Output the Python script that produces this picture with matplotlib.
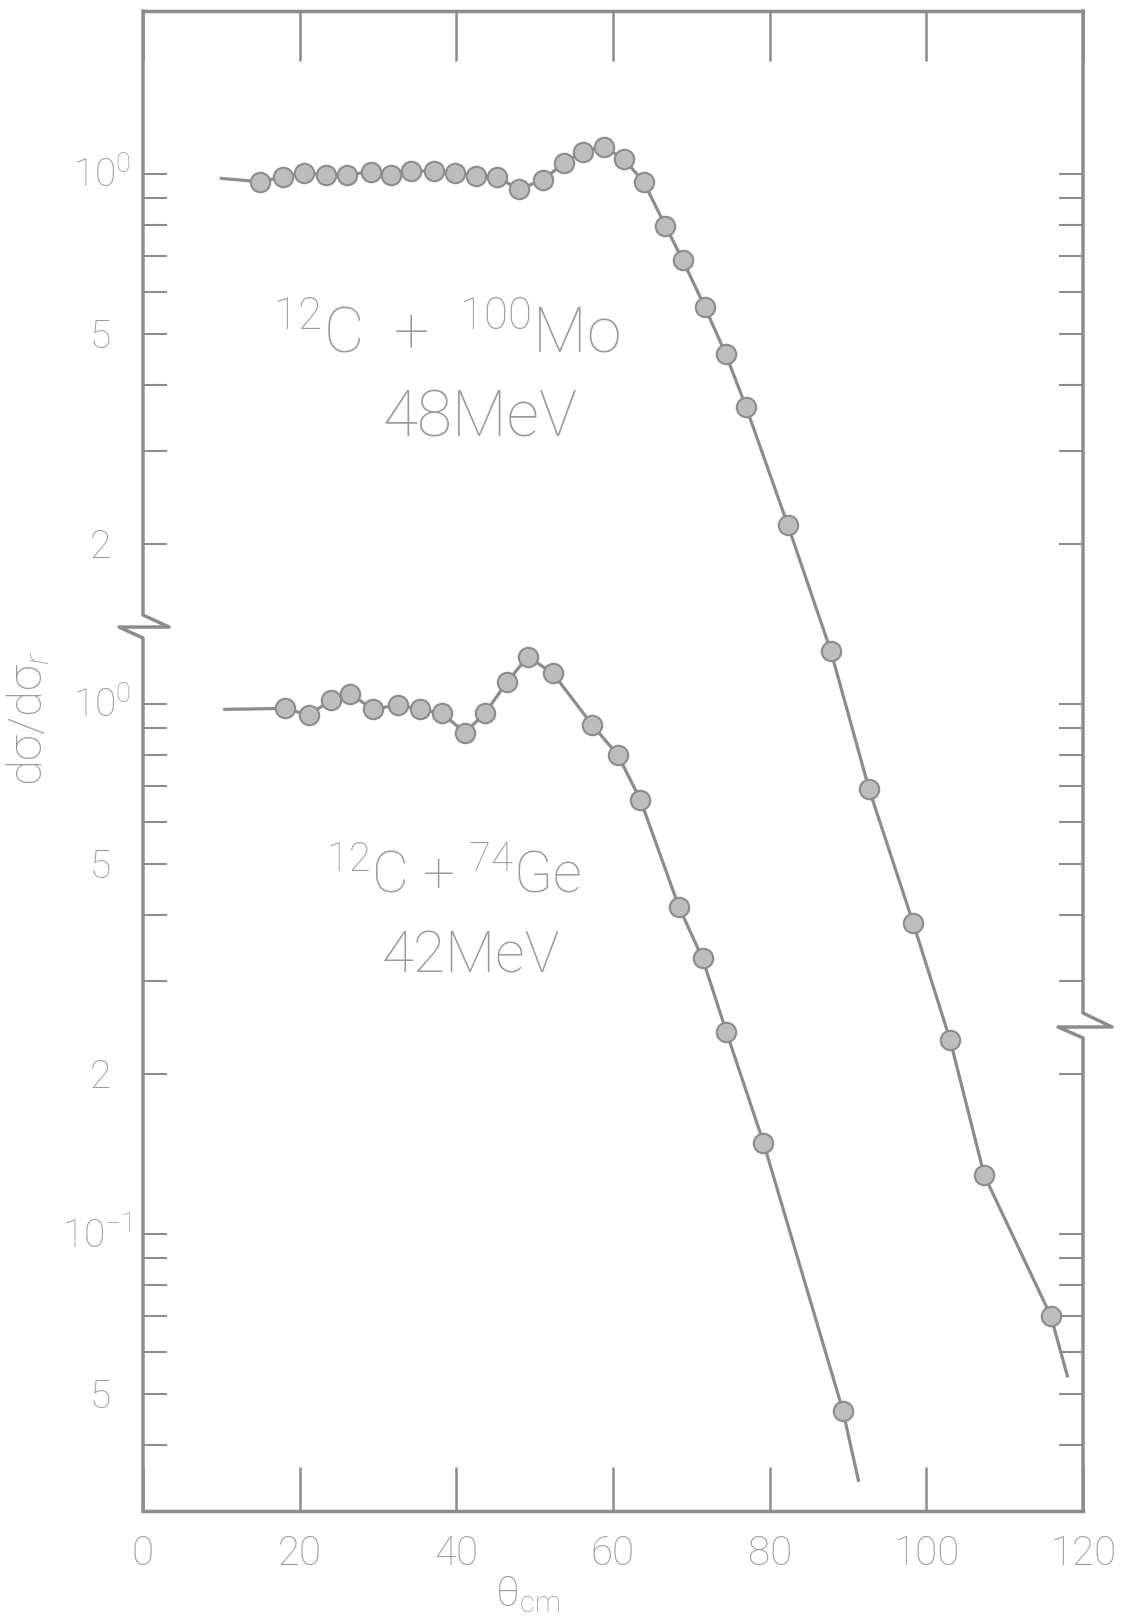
import matplotlib
matplotlib.use('Agg')
import matplotlib.pyplot as plt
import matplotlib.transforms as mtransforms

plt.rcParams['font.family'] = ['Roboto', 'DejaVu Sans']
plt.rcParams['font.weight'] = 'light'
plt.rcParams['mathtext.fontset'] = 'custom'
plt.rcParams['mathtext.rm'] = 'Roboto:light'
plt.rcParams['mathtext.it'] = 'Roboto:italic:light'
plt.rcParams['mathtext.bf'] = 'Roboto:bold'

INK = '#8c8c8c'
FILL = '#bdbdbd'
TXT = '#9a9a9a'

# 12C + 100Mo at 48 MeV (dsigma/dsigma_R)
mo_theta = [14.9, 17.85, 20.5, 23.4, 26.1, 29.05, 31.6, 34.25, 37.15, 39.8,
            42.55, 45.2, 48.0, 51.0, 53.8, 56.15, 58.8, 61.4, 63.9, 66.7,
            68.9, 71.7, 74.4, 77.0, 82.3, 87.8, 92.7, 98.3, 103.05, 107.4, 115.9]
mo_ratio = [0.967, 0.986, 1.006, 0.996, 0.996, 1.010, 0.997, 1.013, 1.013, 1.003,
            0.993, 0.986, 0.936, 0.974, 1.050, 1.102, 1.126, 1.066, 0.967, 0.798,
            0.688, 0.562, 0.457, 0.363, 0.218, 0.126, 0.069, 0.0387, 0.0232, 0.0129, 0.0070]
mo_start = (10.0, 0.981)
mo_end = (118.0, 0.0054)

# 12C + 74Ge at 42 MeV
ge_theta = [18.1, 21.2, 23.96, 26.47, 29.37, 32.56, 35.33, 38.18, 41.1, 43.64,
            46.51, 49.12, 52.33, 57.35, 60.62, 63.51, 68.41, 71.43, 74.47, 79.21, 89.35]
ge_ratio = [0.981, 0.953, 1.017, 1.044, 0.977, 0.996, 0.977, 0.960, 0.883, 0.960,
            1.102, 1.228, 1.143, 0.913, 0.801, 0.659, 0.4145, 0.331, 0.2408, 0.1487, 0.0464]
ge_start = (10.44, 0.977)
ge_end = (91.33, 0.0343)

# the Mo curve sits one decade above the Ge curve on the shared axis
MO_SHIFT = 10.0

x_ticks = [0, 20, 40, 60, 80, 100, 120]
y_ticks = [10, 9, 8, 7, 6, 5, 4, 3, 2,
           1, 0.9, 0.8, 0.7, 0.6, 0.5, 0.4, 0.3, 0.2,
           0.1, 0.09, 0.08, 0.07, 0.06, 0.05, 0.04]
y_labels = [(10, '10$^{0}$'), (5, '5'), (2, '2'),
            (1, '10$^{0}$'), (0.5, '5'), (0.2, '2'),
            (0.1, '10$^{-1}$'), (0.05, '5')]

fig = plt.figure(figsize=(11.21, 16.17), dpi=100)
ax = fig.add_axes([143 / 1121, 1 - 1511 / 1617, 940 / 1121, 1500 / 1617])
ax.set_yscale('log')
ax.set_xlim(0, 120)
ax.set_ylim(0.03002, 20.3)

mo_x = [mo_start[0]] + mo_theta + [mo_end[0]]
mo_y = [(v * MO_SHIFT) for v in [mo_start[1]] + mo_ratio + [mo_end[1]]]
ge_x = [ge_start[0]] + ge_theta + [ge_end[0]]
ge_y = [ge_start[1]] + ge_ratio + [ge_end[1]]

ax.plot(mo_x, mo_y, color=INK, lw=2.3, zorder=2)
ax.plot(ge_x, ge_y, color=INK, lw=2.3, zorder=2)
ax.plot(mo_theta, [v * MO_SHIFT for v in mo_ratio], 'o', ms=14, mfc=FILL, mec=INK, mew=1.5, zorder=3)
ax.plot(ge_theta, ge_ratio, 'o', ms=14, mfc=FILL, mec=INK, mew=1.5, zorder=3)

# spines: top and bottom normal, left/right drawn by hand with the break marks
for side in ['top', 'bottom']:
    ax.spines[side].set_color(INK)
    ax.spines[side].set_linewidth(2.5)
ax.spines['left'].set_visible(False)
ax.spines['right'].set_visible(False)

blend = mtransforms.blended_transform_factory(ax.transAxes, ax.transData)
ylo, yhi = ax.get_ylim()
ax.plot([0, 0, 26 / 940, -24 / 940, 0, 0], [yhi, 1.472, 1.397, 1.397, 1.332, ylo],
        transform=blend, color=INK, lw=2.5, clip_on=False, zorder=4)
ax.plot([1, 1, 1 + 29 / 940, 1 - 25 / 940, 1, 1], [yhi, 0.2612, 0.2458, 0.2458, 0.2344, ylo],
        transform=blend, color=INK, lw=2.5, clip_on=False, zorder=4)

ax.set_xticks(x_ticks)
ax.set_xticklabels([str(t) for t in x_ticks])
ax.tick_params(axis='x', which='major', direction='in', top=True, bottom=True,
               length=32, width=1.8, color=INK, labelsize=29, labelcolor=TXT, pad=17)
for t in ax.xaxis.get_major_ticks():
    t.tick2line.set_markersize(36)

ax.yaxis.set_major_locator(plt.FixedLocator(y_ticks))
ax.yaxis.set_minor_locator(plt.NullLocator())
ax.set_yticklabels([])
ax.tick_params(axis='y', which='major', direction='in', left=True, right=True,
               length=17, width=1.5, color=INK)

label_tf = mtransforms.offset_copy(blend, fig=fig, y=-14, units='dots')
for val, lab in y_labels:
    xpos = -0.0128 if '10' in lab else -0.0341
    ax.text(xpos, val, lab, transform=label_tf, ha='right', va='baseline',
            fontsize=28, color=TXT)

ax.text(38.8, 4.6, '$^{12}$C  +  $^{100}$Mo', ha='center', va='baseline', fontsize=45, color=TXT)
ax.text(43.0, 3.19, '48MeV', ha='center', va='baseline', fontsize=46, color=TXT)
ax.text(39.6, 0.44, '$^{12}$C + $^{74}$Ge', ha='center', va='baseline', fontsize=41, color=TXT)
ax.text(41.8, 0.311, '42MeV', ha='center', va='baseline', fontsize=42, color=TXT)

fig.text(28 / 1121, 1 - 718 / 1617, 'dσ/dσ$_{r}$', rotation=90, ha='center', va='center',
         fontsize=34, color=TXT)
fig.text(528 / 1121, 0.001, 'θ$_{\\mathrm{cm}}$', ha='center', va='bottom', fontsize=30, color=TXT)

fig.savefig('out.png', dpi=100, facecolor='white')
